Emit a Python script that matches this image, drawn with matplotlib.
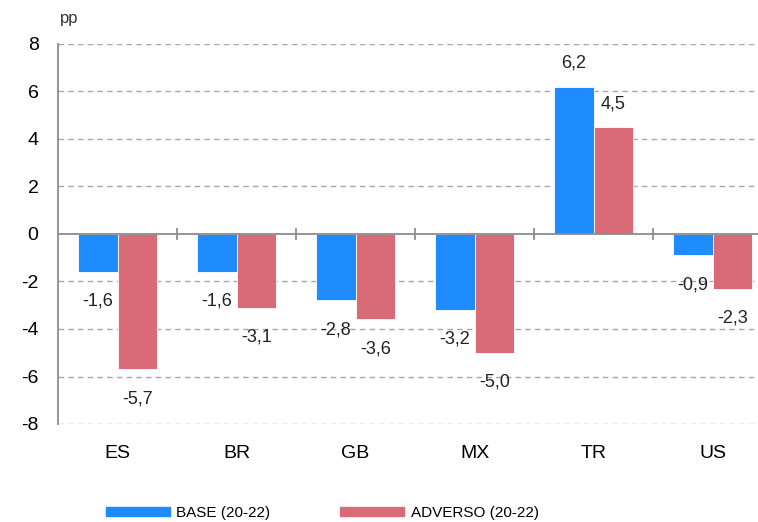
import matplotlib.pyplot as plt
from matplotlib.patches import Patch

# --- datos
paises = ['ES', 'BR', 'GB', 'MX', 'TR', 'US']
base = [-1.6, -1.6, -2.8, -3.2, 6.2, -0.9]
adverso = [-5.7, -3.1, -3.6, -5.0, 4.5, -2.3]
y_ticks = [-8, -6, -4, -2, 0, 2, 4, 6, 8]

azul = '#1E8BFF'
rojo = '#D96B78'
gris = '#8c8c8c'

plt.rcParams['font.family'] = ['Liberation Sans', 'DejaVu Sans']

fig = plt.figure(figsize=(7.58, 5.22), dpi=100)
ax = fig.add_axes([58 / 758, 1 - 424 / 522, 700 / 758, 380 / 522])

ancho = 0.335
x = list(range(len(paises)))
xb = [i - ancho / 2 for i in x]
xr = [i + ancho / 2 for i in x]
ax.bar(xb, base, width=ancho, color=azul, edgecolor='white', linewidth=0.6, zorder=3)
ax.bar(xr, adverso, width=ancho, color=rojo, edgecolor='white', linewidth=0.6, zorder=3)

# etiquetas de valores
def etiqueta(xv, v):
    off = 17 if v > 0 else -21
    ax.annotate(('%.1f' % v).replace('.', ','), (xv, v), xytext=(0, off),
                textcoords='offset points', ha='center', va='center',
                fontsize=13, color='#222222', zorder=4)

for i in x:
    etiqueta(xb[i], base[i])
    etiqueta(xr[i], adverso[i])

ax.set_xlim(-0.5, 5.382)
ax.set_ylim(-8, 8)
ax.set_yticks(y_ticks)
ax.set_yticklabels([str(t) for t in y_ticks], fontsize=14)
ax.set_xticks(x)
ax.set_xticklabels(paises, fontsize=14)
ax.tick_params(axis='x', length=0, pad=15)
ax.tick_params(axis='y', length=0, pad=14)

# rejilla
for t in y_ticks:
    if t != 0:
        ax.axhline(t, color='#a8a8a8', linestyle=(0, (4, 3)), linewidth=1, zorder=1)
ax.axhline(0, color=gris, linewidth=1.3, zorder=4)
for b in [0.5, 1.5, 2.5, 3.5, 4.5]:
    ax.plot([b, b], [-0.2, 0.2], color=gris, linewidth=1.3, zorder=4)

for s in ['top', 'right', 'bottom']:
    ax.spines[s].set_visible(False)
ax.spines['left'].set_color(gris)
ax.spines['left'].set_linewidth(1.3)

fig.text(60 / 758, 1 - 18 / 522, 'pp', fontsize=12, ha='left', va='center', color='#333333')

handles = [Patch(color=azul), Patch(color=rojo)]
fig.legend(handles, ['BASE (20-22)', 'ADVERSO (20-22)'], loc='center left',
           bbox_to_anchor=(101 / 758, 1 - 513 / 522), ncol=2, frameon=False,
           handlelength=4.2, handleheight=0.45, handletextpad=0.4, columnspacing=4.6,
           borderaxespad=0, borderpad=0.3, prop={'size': 11})

fig.savefig('out.png', dpi=100)
